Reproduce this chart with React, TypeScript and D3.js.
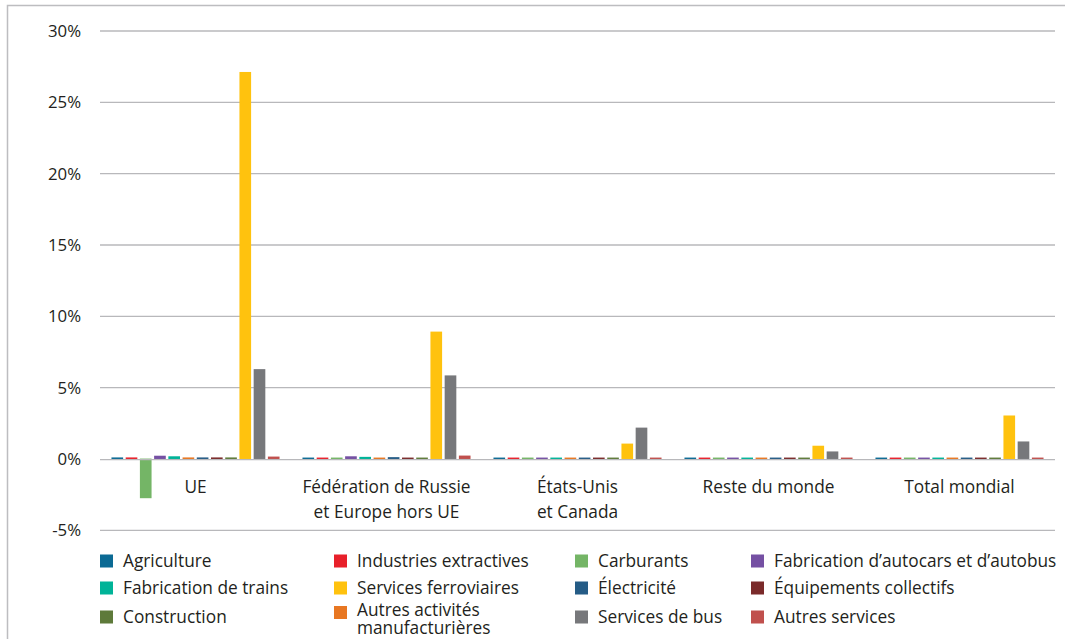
import React from "react";
import * as d3 from "d3";

const categories: string[][] = [
  ["UE"],
  ["Fédération de Russie", "et Europe hors UE"],
  ["États-Unis", "et Canada"],
  ["Reste du monde"],
  ["Total mondial"],
];

const seriesNames = [
  "Agriculture",
  "Industries extractives",
  "Carburants",
  "Fabrication d’autocars et d’autobus",
  "Fabrication de trains",
  "Autres activités manufacturières",
  "Électricité",
  "Équipements collectifs",
  "Construction",
  "Services ferroviaires",
  "Services de bus",
  "Autres services",
];

const seriesColors = [
  "#0b6a94",
  "#e8202a",
  "#74b566",
  "#7550a3",
  "#00b398",
  "#e87722",
  "#255c86",
  "#7a2a2a",
  "#5e7a3a",
  "#ffc20e",
  "#77787b",
  "#c0504d",
];

// values in %, rows = series, columns = categories
const agriculture = [0.08, 0.07, 0.07, 0.07, 0.07];
const industriesExtractives = [0.08, 0.07, 0.07, 0.07, 0.07];
const carburants = [-2.75, 0.07, 0.07, 0.07, 0.07];
const fabricationAutocars = [0.2, 0.16, 0.07, 0.07, 0.07];
const fabricationTrains = [0.16, 0.12, 0.07, 0.07, 0.07];
const autresManufacturieres = [0.08, 0.07, 0.07, 0.07, 0.07];
const electricite = [0.08, 0.1, 0.07, 0.07, 0.07];
const equipementsCollectifs = [0.08, 0.07, 0.07, 0.07, 0.07];
const construction = [0.08, 0.07, 0.07, 0.07, 0.07];
const servicesFerroviaires = [27.1, 8.9, 1.05, 0.9, 3.02];
const servicesBus = [6.27, 5.83, 2.17, 0.5, 1.2];
const autresServices = [0.14, 0.21, 0.07, 0.07, 0.07];

const seriesValues = [
  agriculture,
  industriesExtractives,
  carburants,
  fabricationAutocars,
  fabricationTrains,
  autresManufacturieres,
  electricite,
  equipementsCollectifs,
  construction,
  servicesFerroviaires,
  servicesBus,
  autresServices,
];

const yTicks = [-5, 0, 5, 10, 15, 20, 25, 30];

// legend order (rows of 4)
const legendOrder = [0, 1, 2, 3, 4, 9, 6, 7, 8, 5, 10, 11];

const FONT = "'Open Sans', 'DejaVu Sans', sans-serif";
const FS = 17.3;

export default function App() {
  const W = 1065;
  const H = 639;
  const left = 100;
  const right = 1055;
  const y = d3.scaleLinear().domain([-5, 30]).range([530.3, 31]);
  const x0 = d3
    .scaleBand<number>()
    .domain(categories.map((_, i) => i))
    .range([left, right])
    .paddingInner(0.12)
    .paddingOuter(0.06);
  const x1 = d3
    .scaleBand<number>()
    .domain(seriesNames.map((_, i) => i))
    .range([0, x0.bandwidth()])
    .paddingInner(0.18)
    .paddingOuter(0);

  const legendCols = [100, 334, 575, 751];
  const legendRows = [561, 588, 617];

  return (
    <svg
      width={W}
      height={H}
      style={{ position: "absolute", left: 0, top: 0, display: "block" }}
      fontFamily={FONT}
    >
      <rect x={0} y={0} width={W} height={H} fill="#fff" />
      <path d={`M7.5,${H} V5.5 H${W}`} fill="none" stroke="#bdbdc0" strokeWidth={1.5} />
      {yTicks.map((t) => (
        <g key={t}>
          {t !== 0 && (
            <line
              x1={left}
              x2={right}
              y1={y(t)}
              y2={y(t)}
              stroke="#b8b8bb"
              strokeWidth={1.3}
            />
          )}
          <text
            x={81}
            y={y(t)}
            dy="0.35em"
            textAnchor="end"
            fontSize={16.8}
            fill="#231f20"
          >
            {t}%
          </text>
        </g>
      ))}
      {seriesValues.map((vals, si) =>
        vals.map((v, ci) => {
          const bx = (x0(ci) as number) + (x1(si) as number);
          const y0 = y(0);
          const yv = y(v);
          return (
            <rect
              key={`${si}-${ci}`}
              x={bx}
              y={Math.min(y0, yv) - 0.4}
              width={x1.bandwidth()}
              height={Math.abs(yv - y0) + 0.4}
              fill={seriesColors[si]}
            />
          );
        })
      )}
      <line x1={left} x2={right} y1={y(0) + 0.6} y2={y(0) + 0.6} stroke="#b8b8bb" strokeWidth={1.3} />
      {categories.map((lines, ci) => {
        const cx = (x0(ci) as number) + x0.bandwidth() / 2;
        return (
          <text key={ci} textAnchor="middle" fontSize={FS} fill="#231f20">
            {lines.map((l, li) => (
              <tspan key={li} x={cx} y={487 + li * 25} dy="0.35em">
                {l}
              </tspan>
            ))}
          </text>
        );
      })}
      {legendOrder.map((si, k) => {
        const col = k % 4;
        const row = Math.floor(k / 4);
        const sx = legendCols[col];
        const cy = legendRows[row];
        const twoLine = si === 5;
        return (
          <g key={si}>
            <rect
              x={sx}
              y={twoLine ? cy - 11 : cy - 6.5}
              width={13}
              height={13}
              fill={seriesColors[si]}
            />
            {twoLine ? (
              <text fontSize={FS} fill="#231f20">
                <tspan x={sx + 23} y={cy - 7.5} dy="0.35em">
                  Autres activités
                </tspan>
                <tspan x={sx + 23} y={cy + 10.5} dy="0.35em">
                  manufacturières
                </tspan>
              </text>
            ) : (
              <text x={sx + 23} y={cy} dy="0.35em" fontSize={FS} fill="#231f20">
                {seriesNames[si]}
              </text>
            )}
          </g>
        );
      })}
    </svg>
  );
}
